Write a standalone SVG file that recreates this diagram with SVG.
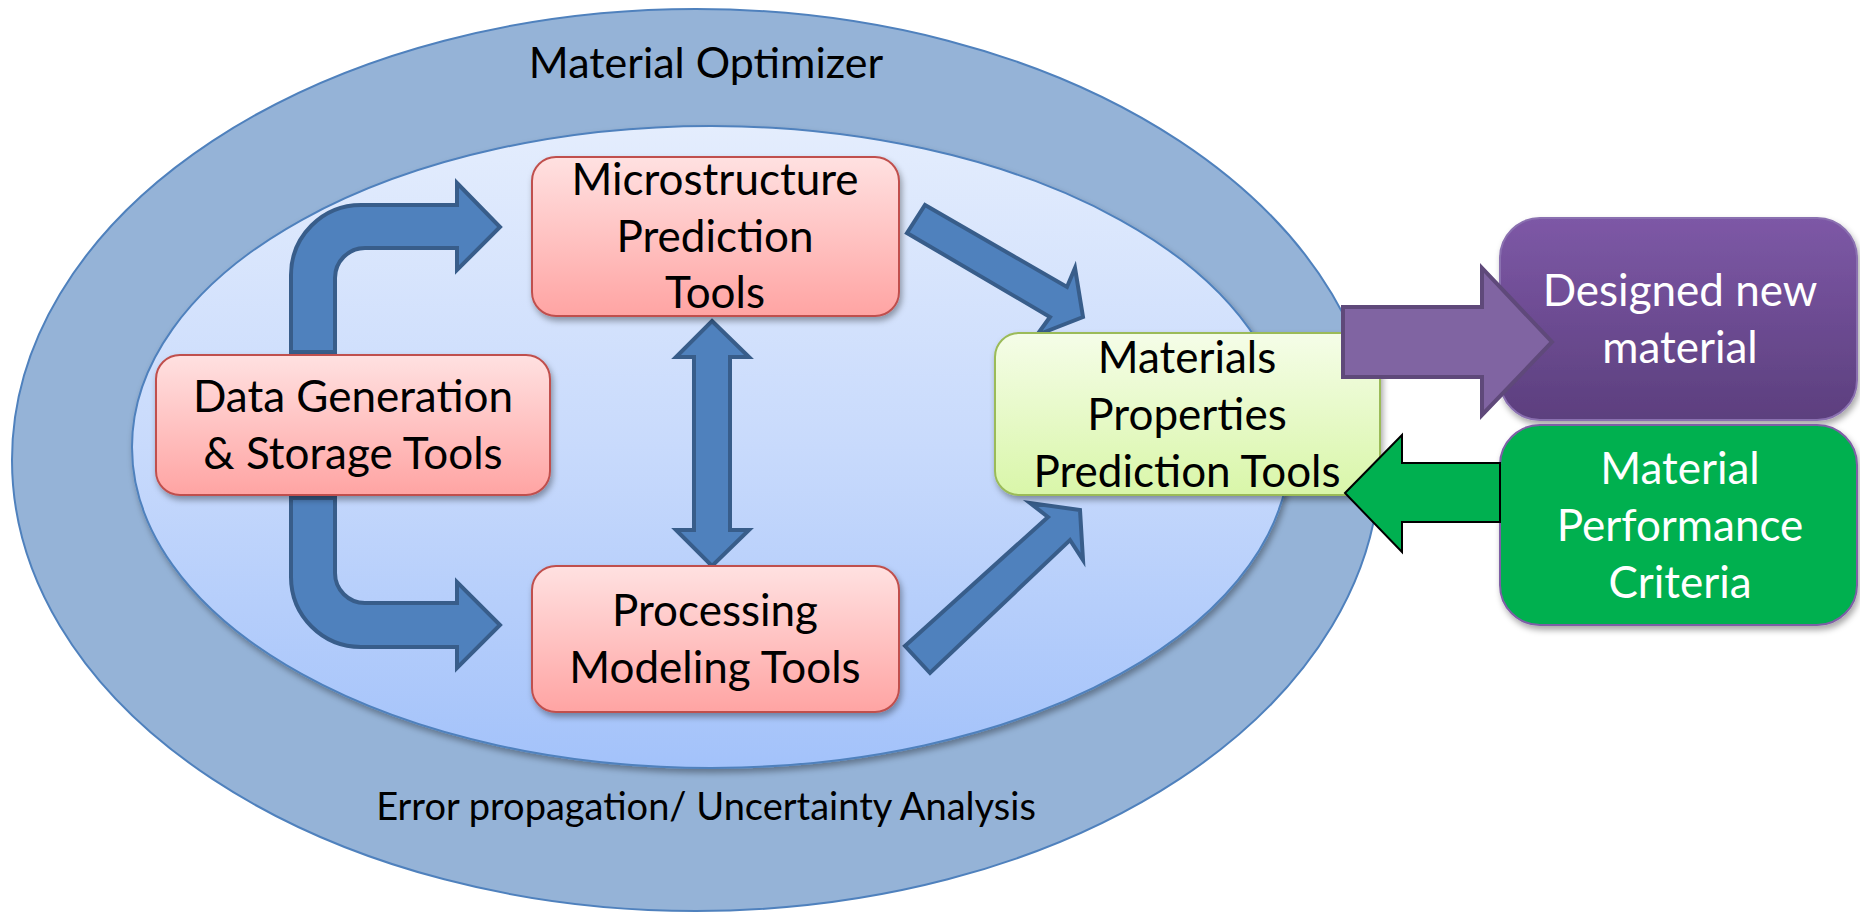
<svg xmlns="http://www.w3.org/2000/svg" width="1860" height="917" viewBox="0 0 1860 917">
<defs>
<linearGradient id="gInner" x1="0" y1="0" x2="0" y2="1">
<stop offset="0" stop-color="#e4edfd"/><stop offset="0.5" stop-color="#c8dafc"/><stop offset="1" stop-color="#a3c2fa"/>
</linearGradient>
<linearGradient id="gPink" x1="0" y1="0" x2="0" y2="1">
<stop offset="0" stop-color="#ffe1e1"/><stop offset="1" stop-color="#ffa4a3"/>
</linearGradient>
<linearGradient id="gGreen" x1="0" y1="0" x2="0" y2="1">
<stop offset="0" stop-color="#f5fde8"/><stop offset="1" stop-color="#d9f6a9"/>
</linearGradient>
<linearGradient id="gPurple" x1="0" y1="0" x2="0" y2="1">
<stop offset="0" stop-color="#7d58a6"/><stop offset="1" stop-color="#5c3f7e"/>
</linearGradient>
<filter id="sh" x="-10%" y="-10%" width="125%" height="130%">
<feDropShadow dx="2" dy="4" stdDeviation="3" flood-color="#000" flood-opacity="0.35"/>
</filter>
<style>
text{font-family:Lato,"Liberation Sans",sans-serif;text-anchor:middle}
.t{font-size:44px;fill:#000}
.w{font-size:44px;fill:#fff}
.pink{fill:url(#gPink);stroke:#c0504d;stroke-width:2}
.blue{fill:#4f81bd;stroke:#385d8a;stroke-width:4;stroke-linejoin:miter}
</style>
</defs>
<g id="outer">
<ellipse cx="696" cy="460" rx="684" ry="451" fill="#95b3d7" stroke="#4f81bd" stroke-width="2"/>
<text x="706" y="78" style="font-size:43px">Material Optimizer</text>
<text x="706" y="820" style="font-size:38px">Error propagation/ Uncertainty Analysis</text>
</g>
<g id="inner">
<ellipse cx="711" cy="447" rx="579" ry="321" fill="url(#gInner)" stroke="#4f81bd" stroke-width="2" filter="url(#sh)"/>
</g>
<g id="connectors">
<path class="blue" d="M291,352 L291,275 A70,70 0 0 1 361,205 L457,205 L457,183 L500,227 L457,270 L457,248 L365,248 A30,30 0 0 0 335,278 L335,352 Z"/>
<path class="blue" d="M291,498 L291,577 A70,70 0 0 0 361,647 L457,647 L457,668 L500,625 L457,582 L457,603 L365,603 A30,30 0 0 1 335,573 L335,498 Z"/>
<path class="blue" d="M712,321 L749,357 L730,357 L730,530 L749,530 L712,566 L676,530 L694,530 L694,357 L676,357 Z"/>
<polygon class="blue" points="925,205 1067,287 1075,268 1083,317 1037,335 1050,317 907,233"/>
<polygon class="blue" points="905,646 1048,517 1030,503 1080,510 1083,560 1070,540 930,673"/>
</g>
<g id="data">
<rect class="pink" x="156" y="355" width="394" height="140" rx="24" filter="url(#sh)"/>
<text class="t" x="353" y="412">Data Generation</text>
<text class="t" x="353" y="469">&amp; Storage Tools</text>
</g>
<g id="micro">
<rect class="pink" x="532" y="157" width="367" height="159" rx="24" filter="url(#sh)"/>
<text class="t" x="715" y="195">Microstructure</text>
<text class="t" x="715" y="252">Prediction</text>
<text class="t" x="715" y="308">Tools</text>
</g>
<g id="proc">
<rect class="pink" x="532" y="566" width="367" height="146" rx="24" filter="url(#sh)"/>
<text class="t" x="715" y="626">Processing</text>
<text class="t" x="715" y="683">Modeling Tools</text>
</g>
<g id="props">
<rect x="995" y="333" width="385" height="162" rx="24" fill="url(#gGreen)" stroke="#9bbb59" stroke-width="2" filter="url(#sh)"/>
<text class="t" x="1187" y="373">Materials</text>
<text class="t" x="1187" y="430">Properties</text>
<text class="t" x="1187" y="487">Prediction Tools</text>
</g>
<g id="designed">
<rect x="1500" y="218" width="357" height="202" rx="40" fill="url(#gPurple)" stroke="#8a70b0" stroke-width="2" filter="url(#sh)"/>
<text class="w" x="1680" y="306">Designed new</text>
<text class="w" x="1680" y="363">material</text>
</g>
<g id="criteria">
<rect x="1500" y="425" width="357" height="200" rx="40" fill="#00b050" stroke="#7e5fa6" stroke-width="2" filter="url(#sh)"/>
<text class="w" x="1680" y="484">Material</text>
<text class="w" x="1680" y="541">Performance</text>
<text class="w" x="1680" y="598">Criteria</text>
</g>
<g id="outputs">
<polygon points="1343,307 1482,307 1482,268 1552,342 1482,415 1482,377 1343,377" fill="#8064a2" stroke="#5f497a" stroke-width="4"/>
<polygon points="1345,493 1402,435 1402,463 1500,463 1500,522 1402,522 1402,552" fill="#00b050" stroke="#000" stroke-width="2"/>
</g>
</svg>
